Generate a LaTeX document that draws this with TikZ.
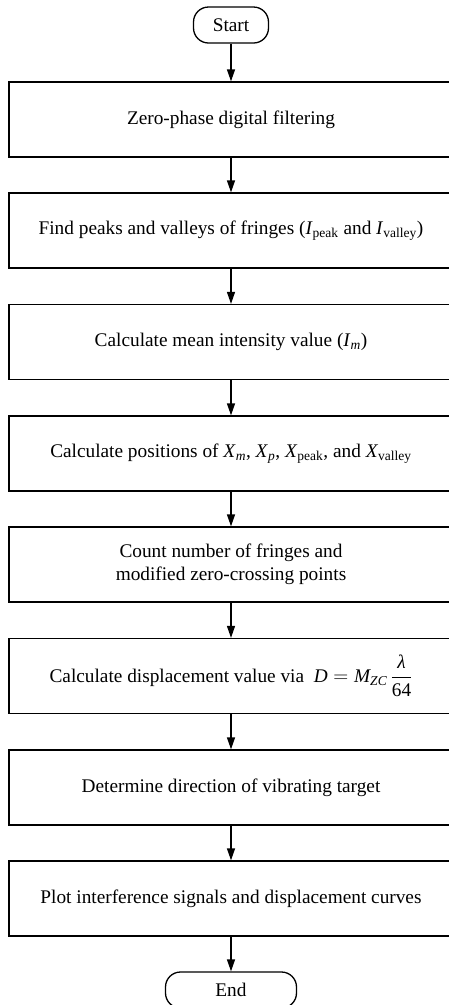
\documentclass[tikz,border=0pt]{standalone}
\usepackage{amsmath}
\usepackage[no-math]{fontspec}
\setmainfont{Liberation Serif}
\usetikzlibrary{arrows.meta}
\tikzset{
  stepbox/.style={draw, line width=1.3pt, minimum width=444pt, minimum height=75pt,
    inner sep=0pt, align=center, font=\fontsize{19.3}{22.5}\selectfont},
  term/.style={draw, line width=1.3pt, rounded corners=15pt, minimum height=36pt,
    inner sep=0pt, font=\fontsize{19.3}{22}\selectfont},
  flow/.style={line width=1.3pt, -{Triangle[length=12pt,width=8pt]}}
}
\newcommand{\sub}[1]{\textsubscript{#1}}
\begin{document}
\begin{tikzpicture}[x=1pt,y=-1pt]
\useasboundingbox (0,0) rectangle (449,1005);
\node[term, minimum width=75pt] (start) at (231,25) {Start};
\node[stepbox] (b1) at (231,119.5) {Zero-phase digital filtering};
\node[stepbox] (b2) at (231,230.5) {Find peaks and valleys of fringes (\textit{I}\sub{peak} and \textit{I}\sub{valley})};
\node[stepbox] (b3) at (231,342) {Calculate mean intensity value (\textit{I}\sub{\textit{m}})};
\node[stepbox] (b4) at (231,453.5) {Calculate positions of \textit{X}\sub{\textit{m}}, \textit{X}\sub{\textit{p}}, \textit{X}\sub{peak}, and \textit{X}\sub{valley}};
\node[stepbox] (b5) at (231,564.5) {Count number of fringes and\\modified zero-crossing points};
\node[stepbox] (b6) at (231,676) {Calculate displacement value via \ $\textit{D} = \textit{M}_{\textit{ZC}}\,\dfrac{\textit{λ}}{\text{64}}$};
\node[stepbox] (b7) at (231,787.5) {Determine direction of vibrating target};
\node[stepbox] (b8) at (231,898.5) {Plot interference signals and displacement curves};
\node[term, minimum width=131pt] (end) at (231,990) {End};
\draw[flow] (start) -- (b1);
\draw[flow] (b1) -- (b2);
\draw[flow] (b2) -- (b3);
\draw[flow] (b3) -- (b4);
\draw[flow] (b4) -- (b5);
\draw[flow] (b5) -- (b6);
\draw[flow] (b6) -- (b7);
\draw[flow] (b7) -- (b8);
\draw[flow] (b8) -- (end);
\end{tikzpicture}
\end{document}
